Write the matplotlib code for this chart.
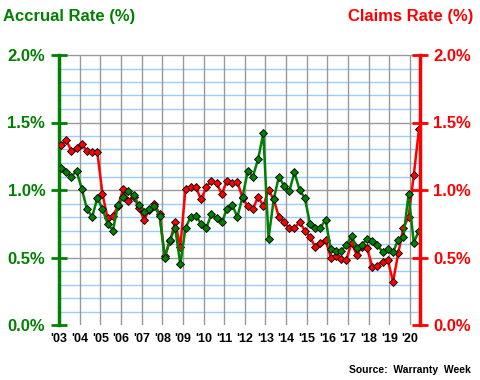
import matplotlib
matplotlib.use('Agg')
import matplotlib.pyplot as plt
import numpy as np

plt.rcParams['font.family'] = ['Liberation Sans', 'DejaVu Sans']

# Quarterly data, 2003 Q1 to 2020 Q2
accrual_rate = [1.16, 1.13, 1.10, 1.14, 1.01, 0.86, 0.80, 0.94, 0.86, 0.75,
                0.70, 0.89, 0.95, 0.99, 0.96, 0.89, 0.84, 0.86, 0.88, 0.81,
                0.50, 0.63, 0.72, 0.45, 0.72, 0.80, 0.81, 0.75, 0.72, 0.82,
                0.79, 0.76, 0.86, 0.89, 0.80, 0.95, 1.14, 1.10, 1.23, 1.42,
                0.64, 0.93, 1.10, 1.03, 0.99, 1.13, 1.00, 0.94, 0.75, 0.72,
                0.72, 0.78, 0.56, 0.55, 0.55, 0.59, 0.66, 0.57, 0.59, 0.64,
                0.62, 0.59, 0.54, 0.56, 0.54, 0.63, 0.65, 0.97, 0.61, 0.70]
claims_rate = [1.33, 1.37, 1.29, 1.31, 1.34, 1.29, 1.28, 1.28, 0.97, 0.79,
               0.81, 0.88, 1.01, 0.92, 0.95, 0.87, 0.78, 0.85, 0.90, 0.82,
               0.51, 0.62, 0.76, 0.58, 1.01, 1.02, 1.02, 0.93, 1.02, 1.07,
               1.05, 0.97, 1.07, 1.05, 1.06, 0.94, 0.88, 0.86, 0.95, 0.88,
               1.00, 0.93, 0.80, 0.76, 0.72, 0.72, 0.76, 0.70, 0.65, 0.58,
               0.61, 0.63, 0.50, 0.51, 0.49, 0.48, 0.61, 0.52, 0.58, 0.57,
               0.43, 0.44, 0.47, 0.48, 0.32, 0.53, 0.72, 0.80, 1.11, 1.45]
year_labels = ["'03", "'04", "'05", "'06", "'07", "'08", "'09", "'10", "'11",
               "'12", "'13", "'14", "'15", "'16", "'17", "'18", "'19", "'20"]
y_ticks = [0.0, 0.5, 1.0, 1.5, 2.0]

green = '#008000'
red = '#ff0000'
grey = '#999999'
light_blue = '#99ccff'

fig = plt.figure(figsize=(4.8, 3.8), dpi=100)
ax = fig.add_axes([58.5 / 480, 55 / 380, 361.5 / 480, 270 / 380])

x = np.arange(len(accrual_rate))
year_pos = np.arange(len(year_labels)) * 3.98 - 0.39

# grid: light blue every 0.1, grey every 0.5, grey verticals at years
for v in np.arange(0.1, 2.0, 0.1):
    if abs(v * 2 - round(v * 2)) > 1e-6:
        ax.axhline(v, color=light_blue, lw=1, zorder=0)
for v in y_ticks[1:]:
    ax.axhline(v, color=grey, lw=1, zorder=0.5, clip_on=False)
for p in year_pos:
    ax.axvline(p, color=grey, lw=1, zorder=0.5)

ax.plot(x, claims_rate, color=red, lw=1.8, marker='D', ms=4.5,
        mfc=red, mec='black', mew=0.6, zorder=3)
ax.plot(x, accrual_rate, color=green, lw=1.8, marker='D', ms=4.5,
        mfc=green, mec='black', mew=0.6, zorder=4)

ax.set_xlim(-0.48, 69.2)
ax.set_ylim(0, 2.0)
ax.set_xticks(year_pos)
ax.set_xticklabels(year_labels, fontsize=9, fontweight='bold', color='black')
ax.tick_params(axis='x', length=0, pad=6)
ax.set_yticks(y_ticks)
ax.set_yticklabels([f'{v:.1f}%' for v in y_ticks], fontsize=12,
                   fontweight='bold', color=green)
ax.tick_params(axis='y', direction='inout', length=11, width=2, color=green, pad=4)

for s in ['top', 'bottom', 'right']:
    ax.spines[s].set_visible(False)
ax.spines['left'].set_color(green)
ax.spines['left'].set_linewidth(2.5)

ax2 = ax.twinx()
ax2.set_ylim(0, 2.0)
ax2.set_yticks(y_ticks)
ax2.set_yticklabels([f'{v:.1f}%' for v in y_ticks], fontsize=12,
                    fontweight='bold', color=red)
ax2.tick_params(axis='y', direction='inout', length=11, width=2, color=red, pad=4)
for s in ['top', 'bottom', 'left']:
    ax2.spines[s].set_visible(False)
ax2.spines['right'].set_color(red)
ax2.spines['right'].set_linewidth(2.5)

fig.text(3 / 480, 1 - 17 / 380, 'Accrual Rate (%)', color=green, fontsize=12,
         fontweight='bold', ha='left', va='center')
fig.text(473 / 480, 1 - 17 / 380, 'Claims Rate (%)', color=red, fontsize=12,
         fontweight='bold', ha='right', va='center')
fig.text(471 / 480, 1 - 370 / 380, 'Source:  Warranty  Week', color='black',
         fontsize=7.5, fontweight='bold', ha='right', va='center')

fig.savefig('out.png', dpi=100)
